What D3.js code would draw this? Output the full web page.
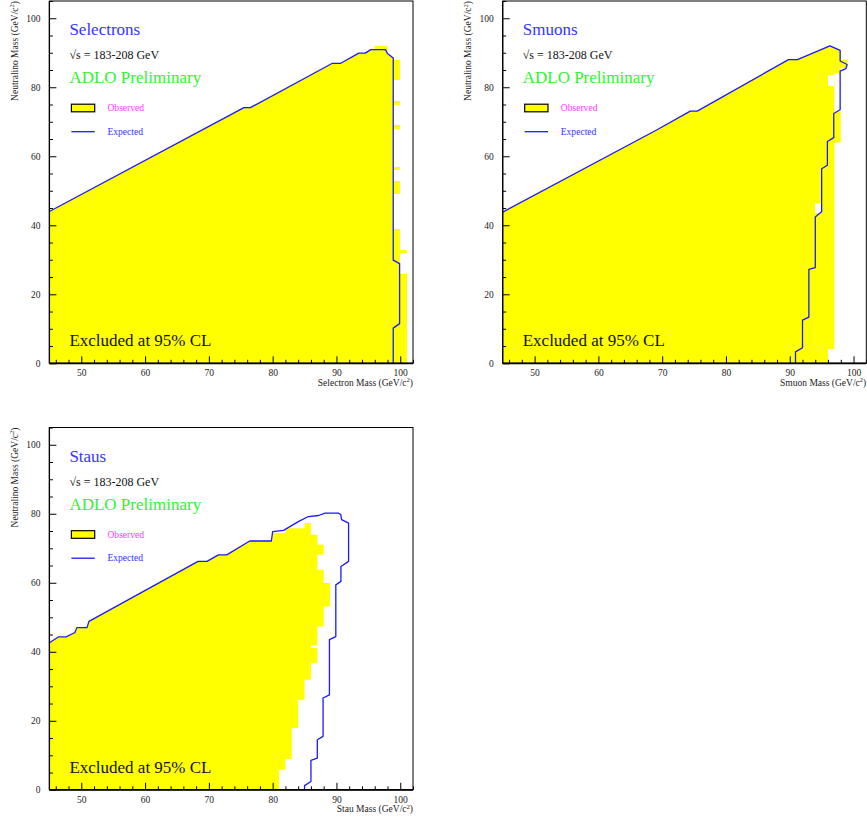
<!DOCTYPE html>
<html>
<head>
<meta charset="utf-8">
<script src="https://cdn.jsdelivr.net/npm/d3@7"></script>
<style>
  body { margin: 0; background: #fff; }
  svg { display: block; }
  text { font-family: "Liberation Serif", "Times New Roman", serif; }
</style>
</head>
<body>
<svg id="chart" width="867" height="825"></svg>
<script>
// Axis ranges and ticks (GeV/c^2)
const massDomain = [45, 102];
const neutralinoDomain = [0, 105];
const massMajorTicks = [50, 60, 70, 80, 90, 100];
const massMinorTicks = [46, 48, 52, 54, 56, 58, 62, 64, 66, 68, 72, 74, 76, 78, 82, 84, 86, 88, 92, 94, 96, 98, 102];
const neutralinoMajorTicks = [0, 20, 40, 60, 80, 100];
const neutralinoMinorTicks = [5, 10, 15, 25, 30, 35, 45, 50, 55, 65, 70, 75, 85, 90, 95, 105];

// Labels
const panelNames = ["Selectrons", "Smuons", "Staus"];
const massTitles = ["Selectron Mass", "Smuon Mass", "Stau Mass"];
const energyLabel = "\u221As = 183-208 GeV";
const collabLabel = "ADLO Preliminary";
const legendLabels = ["Observed", "Expected"];
const exclusionLabel = "Excluded at 95% CL";

// Selectrons: expected limit contour [m_slepton, m_chi]
const selectronExpected = [[45, 44.0], [75.5, 74.1], [76.5, 74.1], [89.3, 86.9], [90.6, 86.9], [93.5, 89.9],
  [94.5, 89.9], [95.4, 90.9], [97.7, 90.9], [98.0, 89.8], [98.9, 88.5], [98.9, 29.9], [99.9, 28.9],
  [99.9, 11.5], [98.9, 10.2], [98.9, 0]];
// Selectrons: observed excluded region outline
const selectronObserved = [[45, 0], [45, 44.0], [75.5, 74.1], [76.5, 74.1], [89.3, 86.9], [90.6, 86.9],
  [93.5, 89.9], [94.5, 89.9], [95.4, 90.9], [96, 90.9], [96, 92], [98, 92], [98, 89.8], [99, 88.4], [99, 0]];
// Selectrons: additional excluded cells [m0, m1, chi0, chi1]
const selectronCells = [[99, 100, 82, 88], [99, 100, 74.8, 76], [99, 100, 67.8, 69], [99, 100, 55.9, 56.9],
  [99, 100, 49, 52.8], [99, 100, 0, 38.8], [100, 101, 32, 32.8], [100, 101, 0, 26]];
const selectronGaps = [];

// Smuons
const smuonExpected = [[45, 43.8], [69.2, 67.7], [74.4, 73.1], [75.5, 73.1], [89.8, 88.0], [91.2, 88.0],
  [96.3, 92.0], [97.9, 90.7], [97.9, 87.6], [99.0, 86.6], [98.8, 85.4], [97.9, 84.7], [97.9, 73.5],
  [96.9, 72.4], [96.9, 65.4], [95.9, 64.3], [95.9, 57.4], [95.0, 56.4], [95.0, 43.9], [94.0, 42.4],
  [94.0, 27.7], [93.0, 27.2], [93.0, 13.4], [92.0, 12.5], [92.0, 4.5], [90.9, 3.3], [90.9, 0]];
const smuonObserved = [[45, 0], [45, 43.8], [69.2, 67.7], [74.4, 73.1], [75.5, 73.1], [89.8, 88.0],
  [91.2, 88.0], [96.3, 92.0], [97.9, 90.7], [98, 88], [99, 88], [99, 85.6], [98, 85.6], [98, 84],
  [97, 84], [97, 73], [98, 73], [98, 64], [97, 64], [97, 4], [96, 4], [96, 0]];
const smuonCells = [];
const smuonGaps = [[96, 97, 80.5, 83.5], [94, 95, 43.7, 46.4], [96, 97, 0, 4]];

// Staus
const stauExpected = [[45, 42.6], [46.4, 44.3], [47.6, 44.3], [49.0, 45.6], [49.3, 47.0], [50.9, 47.0],
  [51.2, 48.8], [68.3, 66.2], [69.7, 66.2], [71.5, 68.1], [72.8, 68.1], [76.4, 72.1], [79.8, 72.1],
  [80.0, 74.8], [81.7, 75.2], [84.1, 77.8], [85.6, 79.2], [87.2, 79.5], [88.2, 80.2], [90.3, 80.2],
  [90.7, 79.7], [90.8, 78.3], [91.9, 77.3], [91.9, 66.2], [90.7, 64.7], [90.7, 60.4], [89.9, 59.4],
  [89.9, 44.4], [88.9, 43.5], [88.9, 27.5], [87.9, 26.6], [87.9, 15.5], [87.0, 14.5], [87.0, 9.2],
  [86.0, 8.5], [86.0, 2.4], [85.0, 1.2], [85.0, 0]];
const stauObserved = [[45, 0], [45, 42.6], [46.4, 44.3], [47.6, 44.3], [49.0, 45.6], [49.3, 47.0],
  [50.9, 47.0], [51.2, 48.8], [68.3, 66.2], [69.7, 66.2], [71.5, 68.1], [72.8, 68.1], [76.4, 72.1],
  [80, 72.1], [80, 74.4], [82, 74.4], [82, 75.8], [85, 75.8], [85, 77.3], [86, 77.3], [86, 73.9],
  [87, 73.9], [87, 71.0], [88, 71.0], [88, 68.1], [87, 68.1], [87, 63.8], [88, 63.8], [88, 59.9],
  [89, 59.9], [89, 53.1], [88, 53.1], [88, 47.3], [87, 47.3], [87, 42.0], [86, 42.0], [86, 41.1],
  [87, 41.1], [87, 36.7], [86, 36.7], [86, 31.9], [85, 31.9], [85, 26.1], [84, 26.1], [84, 17.9],
  [83, 17.9], [83, 8.9], [82, 8.9], [82, 5.8], [81, 5.8], [81, 0]];
const stauCells = [];
const stauGaps = [];

// Page layout
const plotW = 363.6, plotH = 362.3;
const panels = [
  { left: 49.4, top: 1.0, name: panelNames[0], title: massTitles[0], expected: selectronExpected, observed: selectronObserved, cells: selectronCells, gaps: selectronGaps },
  { left: 502.7, top: 1.0, name: panelNames[1], title: massTitles[1], expected: smuonExpected, observed: smuonObserved, cells: smuonCells, gaps: smuonGaps },
  { left: 49.4, top: 427.5, name: panelNames[2], title: massTitles[2], expected: stauExpected, observed: stauObserved, cells: stauCells, gaps: stauGaps }
];

const YELLOW = "#ffff00", BLUE = "#1a1aff", TITLE_BLUE = "#3535ff", GREEN = "#2ef52e", MAGENTA = "#ff3cff";
const svg = d3.select("#chart");

function addUnit(textSel, fontSize) {
  textSel.append("tspan").text(" (GeV/c");
  textSel.append("tspan").attr("font-size", fontSize * 0.7).attr("dy", -fontSize * 0.4).text("2");
  textSel.append("tspan").attr("dy", fontSize * 0.4).text(")");
}

panels.forEach((p, i) => {
  const g = svg.append("g").attr("transform", `translate(${p.left},${p.top})`);
  const x = d3.scaleLinear().domain(massDomain).range([0, plotW]);
  const y = d3.scaleLinear().domain(neutralinoDomain).range([plotH, 0]);

  const clipId = "clip" + i;
  g.append("clipPath").attr("id", clipId).append("rect").attr("width", plotW).attr("height", plotH);
  const plot = g.append("g").attr("clip-path", `url(#${clipId})`);

  const area = d3.line().x(d => x(d[0])).y(d => y(d[1])).curve(d3.curveLinearClosed);
  const line = d3.line().x(d => x(d[0])).y(d => y(d[1]));

  // observed exclusion
  plot.append("path").datum(p.observed).attr("d", area).attr("fill", YELLOW);
  plot.selectAll("rect.cell").data(p.cells).join("rect").attr("class", "cell")
    .attr("x", d => x(d[0])).attr("width", d => x(d[1]) - x(d[0]))
    .attr("y", d => y(d[3])).attr("height", d => y(d[2]) - y(d[3]))
    .attr("fill", YELLOW).attr("shape-rendering", "crispEdges");
  plot.selectAll("rect.gap").data(p.gaps).join("rect").attr("class", "gap")
    .attr("x", d => x(d[0])).attr("width", d => x(d[1]) - x(d[0]))
    .attr("y", d => y(d[3])).attr("height", d => y(d[2]) - y(d[3]))
    .attr("fill", "#fff").attr("shape-rendering", "crispEdges");

  // expected limit
  plot.append("path").datum(p.expected).attr("d", line).attr("fill", "none")
    .attr("stroke", BLUE).attr("stroke-width", 1.3).attr("stroke-linejoin", "round");

  // frame
  g.append("rect").attr("width", plotW).attr("height", plotH).attr("fill", "none")
    .attr("stroke", "#000").attr("stroke-width", 1);

  // axes with inward ticks
  const xMajor = g.append("g").attr("transform", `translate(0,${plotH})`)
    .call(d3.axisBottom(x).tickValues(massMajorTicks).tickSize(-7).tickPadding(6));
  const xMinor = g.append("g").attr("transform", `translate(0,${plotH})`)
    .call(d3.axisBottom(x).tickValues(massMinorTicks).tickSize(-3.5).tickFormat(""));
  const yMajor = g.append("g").call(d3.axisLeft(y).tickValues(neutralinoMajorTicks).tickSize(-7).tickPadding(9));
  const yMinor = g.append("g").call(d3.axisLeft(y).tickValues(neutralinoMinorTicks).tickSize(-3.5).tickFormat(""));
  [xMajor, xMinor, yMajor, yMinor].forEach(a => {
    a.select(".domain").remove();
    a.selectAll(".tick line").attr("stroke", "#000").attr("stroke-width", 1);
    a.selectAll(".tick text").attr("font-size", 9.5).attr("fill", "#222")
      .style("font-family", '"Liberation Serif", serif');
  });
  g.append("line").attr("x1", 0).attr("x2", plotW).attr("y1", plotH).attr("y2", plotH)
    .attr("stroke", "#000").attr("stroke-width", 1.8);
  g.append("line").attr("x1", 0).attr("x2", 0).attr("y1", 0).attr("y2", plotH)
    .attr("stroke", "#000").attr("stroke-width", 1.3);

  // axis titles
  const xt = g.append("text").attr("x", plotW).attr("y", plotH + 22.5).attr("text-anchor", "end")
    .attr("font-size", 9.5).attr("fill", "#222").text(p.title);
  addUnit(xt, 9.5);
  const yt = g.append("text").attr("transform", "translate(-31.4,0) rotate(-90)")
    .attr("text-anchor", "end").attr("font-size", 9.5).attr("fill", "#222").text("Neutralino Mass");
  addUnit(yt, 9.5);

  // panel annotations
  g.append("text").attr("x", 20).attr("y", 34).attr("font-size", 17).attr("fill", TITLE_BLUE).text(p.name);
  g.append("text").attr("x", 20).attr("y", 58.3).attr("font-size", 12).attr("fill", "#111").text(energyLabel);
  g.append("text").attr("x", 20).attr("y", 82.3).attr("font-size", 17).attr("fill", GREEN).text(collabLabel);

  g.append("rect").attr("x", 22).attr("y", 103.2).attr("width", 23.3).attr("height", 7.6)
    .attr("fill", YELLOW).attr("stroke", "#000").attr("stroke-width", 1.2);
  g.append("text").attr("x", 58).attr("y", 110).attr("font-size", 9.6).attr("fill", MAGENTA).text(legendLabels[0]);
  g.append("line").attr("x1", 22).attr("x2", 45.3).attr("y1", 130.7).attr("y2", 130.7)
    .attr("stroke", BLUE).attr("stroke-width", 1.3);
  g.append("text").attr("x", 58).attr("y", 133.6).attr("font-size", 9.6).attr("fill", TITLE_BLUE).text(legendLabels[1]);

  g.append("text").attr("x", 20).attr("y", plotH - 17.2).attr("font-size", 17).attr("fill", "#111").text(exclusionLabel);
});
</script>
</body>
</html>
